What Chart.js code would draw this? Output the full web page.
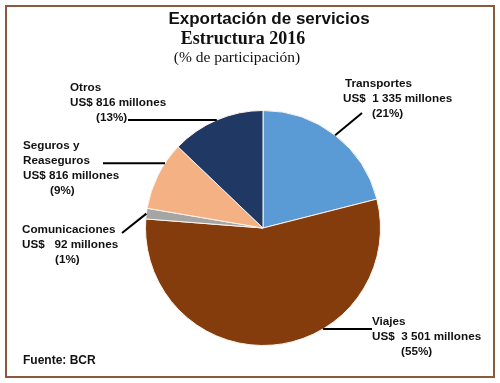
<!DOCTYPE html>
<html>
<head>
<meta charset="utf-8">
<script src="https://cdn.jsdelivr.net/npm/chart.js@4"></script>
<style>
  body { margin: 0; background: #fff; }
  #wrap { position: relative; width: 500px; height: 383px; }
  #frame { position: absolute; left: 5px; top: 5px; width: 486px; height: 369px;
           border: 2px solid #8b5a3c; pointer-events: none; }
</style>
</head>
<body>
<div id="wrap">
  <canvas id="pieChart" width="500" height="383"></canvas>
  <div id="frame"></div>
</div>
<script>
// Exportación de servicios 2016, millones de US$ (Seguros)
const categories = ['Transportes', 'Viajes', 'Comunicaciones', 'Seguros y Reaseguros', 'Otros'];
const values = [1335, 3501, 92, 600, 816];
const colors = ['#5b9bd5', '#843c0c', '#a5a5a5', '#f4b183', '#1f3864'];

// label text lines per slice
const labelLines = [
  ['Transportes', 'US$  1 335 millones', '(21%)'],
  ['Viajes', 'US$  3 501 millones', '(55%)'],
  ['Comunicaciones', 'US$   92 millones', '(1%)'],
  ['Seguros y', 'Reaseguros', 'US$ 816 millones', '(9%)'],
  ['Otros', 'US$ 816 millones', '(13%)']
];

// where each label sits: x of each line, y of first line, where the leader starts,
// and at what fraction of the slice the leader touches the pie
const labelLayout = [
  { xs: [345, 343, 372], y: 84, from: [362, 113], at: 0.5, horiz: false },
  { xs: [372, 372, 401], y: 322, from: [372, 0], at: 0.37, horiz: true },
  { xs: [22, 22, 55], y: 230, from: [122, 233], at: 0.5, horiz: false },
  { xs: [23, 23, 23, 50], y: 146, from: [103, 0], at: 0.7, horiz: true },
  { xs: [70, 70, 96], y: 88, from: [128, 0], at: 0.5, horiz: true }
];

const labelPlugin = {
  id: 'labelPlugin',
  afterDraw(chart) {
    const ctx = chart.ctx;
    ctx.save();
    ctx.fillStyle = '#111';
    ctx.textBaseline = 'middle';
    ctx.textAlign = 'center';
    ctx.font = 'bold 17px "Liberation Sans", Arial, sans-serif';
    ctx.fillText('Exportación de servicios', 269, 19);
    ctx.font = 'bold 18px "Liberation Serif", "Times New Roman", serif';
    ctx.fillText('Estructura 2016', 243, 39);
    ctx.font = '15.5px "Liberation Serif", "Times New Roman", serif';
    ctx.fillText('(% de participación)', 237, 58);

    ctx.textAlign = 'left';
    ctx.font = 'bold 12px "Liberation Sans", Arial, sans-serif';
    ctx.fillText('Fuente: BCR', 23, 361);

    ctx.font = 'bold 11.7px "Liberation Sans", Arial, sans-serif';
    const meta = chart.getDatasetMeta(0);
    meta.data.forEach((arc, i) => {
      const lay = labelLayout[i];
      labelLines[i].forEach((line, j) => {
        ctx.fillText(line, lay.xs[j], lay.y + j * 15);
      });
      const ang = arc.startAngle + (arc.endAngle - arc.startAngle) * lay.at;
      const px = arc.x + Math.cos(ang) * arc.outerRadius;
      const py = arc.y + Math.sin(ang) * arc.outerRadius;
      ctx.strokeStyle = '#000';
      ctx.lineWidth = 2;
      ctx.beginPath();
      if (lay.horiz) {
        ctx.moveTo(lay.from[0], py);
      } else {
        ctx.moveTo(lay.from[0], lay.from[1]);
      }
      ctx.lineTo(px, py);
      ctx.stroke();
    });
    ctx.restore();
  }
};

new Chart(document.getElementById('pieChart'), {
  type: 'pie',
  data: {
    labels: categories,
    datasets: [{
      data: values,
      backgroundColor: colors,
      borderColor: '#fdf3ea',
      borderWidth: 1
    }]
  },
  options: {
    responsive: false,
    animation: false,
    layout: { padding: { left: 145, right: 119, top: 110, bottom: 37 } },
    plugins: { legend: { display: false }, tooltip: { enabled: false } }
  },
  plugins: [labelPlugin]
});
</script>
</body>
</html>
